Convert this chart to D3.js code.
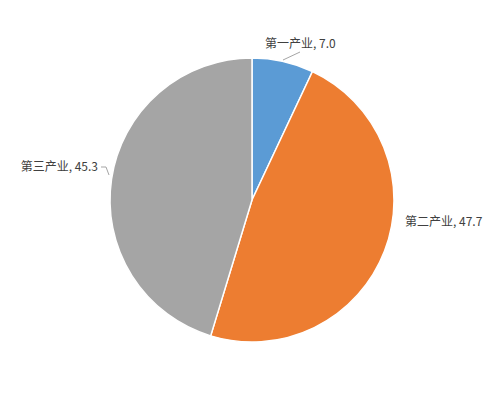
<!DOCTYPE html>
<html>
<head>
<meta charset="utf-8">
<script src="https://cdn.jsdelivr.net/npm/d3@7"></script>
<style>
  body { margin: 0; background: #fff; }
  text { font-family: "Noto Sans CJK SC", "Noto Sans", sans-serif; font-size: 12px; fill: #404040; }
</style>
</head>
<body>
<div id="chart"></div>
<script>
var categories = ["第一产业", "第二产业", "第三产业"];
var values = [7.0, 47.7, 45.3];
var colors = ["#5B9BD5", "#ED7D31", "#A5A5A5"];

var width = 504, height = 400;
var cx = 252, cy = 200, r = 142;

var svg = d3.select("#chart").append("svg")
  .attr("width", width)
  .attr("height", height);

var data = categories.map(function(c, i) { return { name: c, value: values[i], color: colors[i] }; });

var pie = d3.pie().sort(null).value(function(d) { return d.value; });
var arc = d3.arc().innerRadius(0).outerRadius(r);

var g = svg.append("g").attr("transform", "translate(" + cx + "," + cy + ")");

g.selectAll("path.slice")
  .data(pie(data))
  .enter().append("path")
    .attr("class", "slice")
    .attr("d", arc)
    .attr("fill", function(d) { return d.data.color; })
    .attr("stroke", "#fff")
    .attr("stroke-width", 1.5);

// label positions relative to center (placement only)
var labelPos = [
  { x: 13, y: -152, anchor: "start", line: [[31, -140], [48, -148]] },
  { x: 153, y: 26, anchor: "start", line: null },
  { x: -154, y: -29, anchor: "end", line: [[-151, -33], [-146, -33], [-143, -25]] }
];

pie(data).forEach(function(d, i) {
  var p = labelPos[i];
  if (p.line) {
    g.append("path")
      .attr("d", d3.line()(p.line))
      .attr("fill", "none")
      .attr("stroke", "#A5A5A5")
      .attr("stroke-width", 1);
  }
  g.append("text")
    .attr("x", p.x)
    .attr("y", p.y)
    .attr("text-anchor", p.anchor)
    .text(d.data.name + ", " + d3.format(".1f")(d.data.value));
});
</script>
</body>
</html>
